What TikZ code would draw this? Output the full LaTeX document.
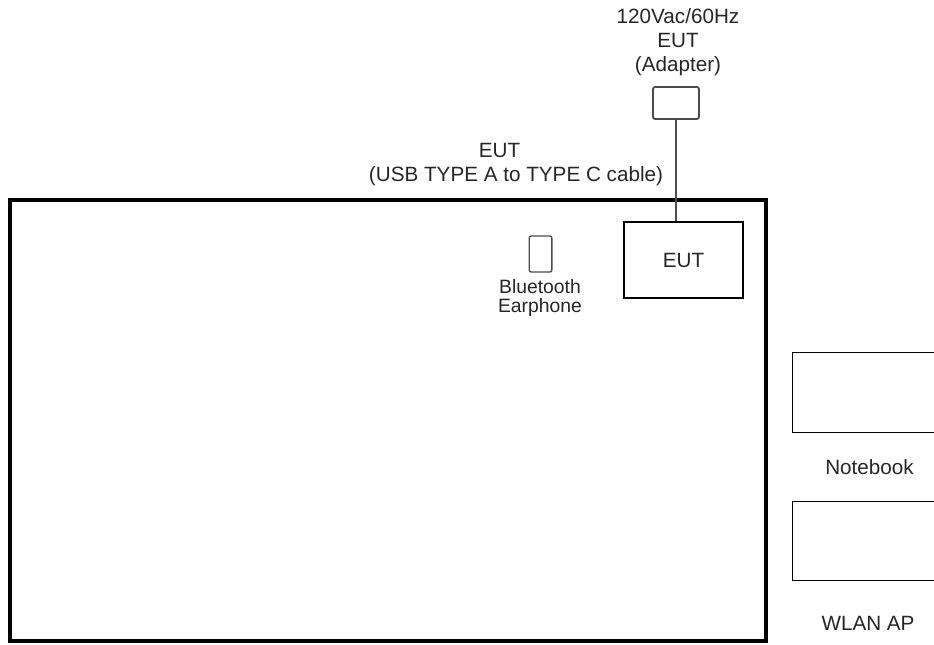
\documentclass[tikz,border=0pt]{standalone}
\usepackage{fontspec}
\setmainfont{Liberation Sans}
\usetikzlibrary{calc}

\begin{document}
\begin{tikzpicture}[x=0.75pt, y=-0.75pt, every node/.style={font=\fontsize{15.5}{18}\selectfont, text=black!85, inner sep=0pt},
	box/.style={draw=black, line width=1.1pt},
	smallbox/.style={draw=black!70, line width=1.3pt, rounded corners=1.5pt}]
		\useasboundingbox (0,0) rectangle (934,644);
		\draw[line width=3pt] (10,200) rectangle (766,641);
		\node[align=center] (mains) at (678,42) {120Vac/60Hz\\EUT\\(Adapter)};
		\node[smallbox, minimum width=34.5pt, minimum height=24pt] (adapter) at (676,103) {};
		\node[align=center] (cablelbl) at (516,165) {EUT\hspace*{1.6em}\\(USB TYPE A to TYPE C cable)};
		\node[box, minimum width=89pt, minimum height=57pt] (eut) at (683.5,260) {EUT};
		\draw[black!70, line width=1.5pt] (adapter.south) -- (adapter.south |- eut.north);
		\node[smallbox, minimum width=17pt, minimum height=27pt, line width=1pt] (earphone) at (540.5,254) {};
		\node[align=center, font=\fontsize{14.5}{14}\selectfont] (earlbl) at (540,298) {Bluetooth\\Earphone};
		\node[box, minimum width=120pt, minimum height=60pt, anchor=north west] (notebook) at (792,352) {};
		\node (nblbl) at (869.5,467) {Notebook};
		\node[box, minimum width=120pt, minimum height=59pt, anchor=north west] (ap) at (792,501) {};
		\node (aplbl) at (868,623) {WLAN AP};
	\end{tikzpicture}
\end{document}
